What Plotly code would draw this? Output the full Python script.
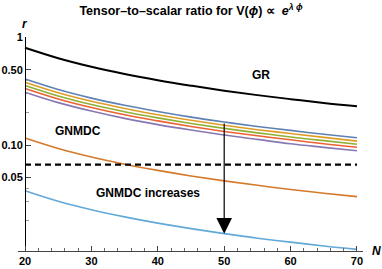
import math
import plotly.graph_objects as go

# ---- data ----
N = [20, 25, 30, 35, 40, 45, 50, 55, 60, 65, 70]
r_GR = [0.800, 0.640, 0.533, 0.457, 0.400, 0.356, 0.320, 0.291, 0.267, 0.246, 0.229]
r_c1 = [0.410, 0.328, 0.273, 0.234, 0.205, 0.182, 0.164, 0.149, 0.137, 0.126, 0.117]
r_c2 = [0.383, 0.306, 0.255, 0.219, 0.191, 0.170, 0.153, 0.139, 0.128, 0.118, 0.109]
r_c3 = [0.358, 0.286, 0.238, 0.204, 0.179, 0.159, 0.143, 0.130, 0.119, 0.110, 0.102]
r_c4 = [0.335, 0.268, 0.223, 0.191, 0.168, 0.149, 0.134, 0.122, 0.112, 0.103, 0.0957]
r_c5 = [0.310, 0.248, 0.207, 0.177, 0.155, 0.138, 0.124, 0.113, 0.103, 0.0954, 0.0886]
r_g1 = [0.1165, 0.0932, 0.0777, 0.0666, 0.0583, 0.0518, 0.0466, 0.0424, 0.0388, 0.0358, 0.0333]
r_g2 = [0.0378, 0.0302, 0.0252, 0.0216, 0.0189, 0.0168, 0.0151, 0.0137, 0.0126, 0.0116, 0.0108]
r_bound = 0.066
arrow_N = 50

y_tickvals = [0.05, 0.1, 0.5, 1]
y_ticktext = ["0.05", "0.10", "0.50", "1"]
y_minor = [0.02, 0.03, 0.04, 0.2, 0.3, 0.4]
x_tickvals = [20, 30, 40, 50, 60, 70]

FONT = "Liberation Sans, Arial, sans-serif"

fig = go.Figure()

def line(y, color, width):
    fig.add_trace(go.Scatter(x=N, y=y, mode="lines", line=dict(color=color, width=width, shape="spline"),
                             showlegend=False, hoverinfo="skip"))

line(r_GR, "black", 2)
for y, c in [(r_c5, "#8778B3"), (r_c4, "#EB6235"), (r_c3, "#8FB032"), (r_c2, "#E19C24"), (r_c1, "#5E81B5")]:
    line(y, c, 1.6)
line(r_g1, "#D5792A", 1.6)
line(r_g2, "#62A8D8", 1.6)

fig.add_trace(go.Scatter(x=[N[0], N[-1]], y=[r_bound, r_bound], mode="lines",
                         line=dict(color="black", width=2.2, dash="6px,4px"),
                         showlegend=False, hoverinfo="skip"))

i = N.index(arrow_N)
fig.add_annotation(x=arrow_N, y=math.log10(r_g2[i]), ax=arrow_N, ay=math.log10(r_c1[i]),
                   xref="x", yref="y", axref="x", ayref="y", showarrow=True,
                   arrowhead=2, arrowsize=2.6, arrowwidth=1.2, arrowcolor="black", standoff=0, text="")

lab = dict(family=FONT, size=12, color="black", weight="bold")
fig.add_annotation(x=55.6, y=math.log10(0.446), text="GR", showarrow=False, font=lab)
fig.add_annotation(x=28.0, y=math.log10(0.134), text="GNMDC", showarrow=False, font=lab)
fig.add_annotation(x=38.5, y=math.log10(0.0358), text="GNMDC increases", showarrow=False, font=lab)

axlab = dict(family=FONT, size=12, color="black", weight="bold")
fig.add_annotation(xref="paper", yref="paper", x=7/345, y=1.06, text="<i>r</i>", showarrow=False,
                   font=axlab, xanchor="center", yanchor="middle")
fig.add_annotation(xref="paper", yref="paper", x=1.04, y=0.0, text="<i>N</i>", showarrow=False,
                   font=axlab, xanchor="center", yanchor="middle")

fig.update_layout(
    width=382, height=269,
    margin=dict(l=18, r=19, t=37, b=18, autoexpand=False),
    paper_bgcolor="white", plot_bgcolor="white",
    font=dict(family=FONT, color="black"),
    title=dict(text="Tensor–to–scalar ratio for V(<i>ϕ</i>) ∝  <i>e</i><sup><i>λ ϕ</i></sup>",
               x=0.5, xref="container", xanchor="center",
               y=1 - 11/269, yref="container", yanchor="middle",
               font=dict(family=FONT, size=12.5, color="black", weight="bold")),
    xaxis=dict(range=[18.944, 70.905], showgrid=False, zeroline=False, automargin=False,
               showline=True, linecolor="#444", linewidth=1.2,
               ticks="inside", ticklen=5, tickwidth=1, tickcolor="#444",
               tickvals=x_tickvals, tickfont=dict(family=FONT, size=11, color="black", weight="bold"),
               minor=dict(ticks="inside", ticklen=3, tickcolor="#666", dtick=2, tick0=20)),
    yaxis=dict(type="log", range=[-1.982, 0.003], showgrid=False, zeroline=False, automargin=False,
               anchor="free", position=7/345,
               showline=True, linecolor="black", linewidth=1.2,
               ticks="inside", ticklen=5, tickwidth=1, tickcolor="#444",
               tickvals=y_tickvals, ticktext=y_ticktext,
               tickfont=dict(family=FONT, size=11, color="black", weight="bold"),
               minor=dict(ticks="inside", ticklen=3, tickcolor="#999", tickvals=y_minor)),
)

fig.write_html("out.html", config={"displayModeBar": False, "staticPlot": True},
               post_script="document.body.style.margin='0';document.body.style.overflow='hidden';")
